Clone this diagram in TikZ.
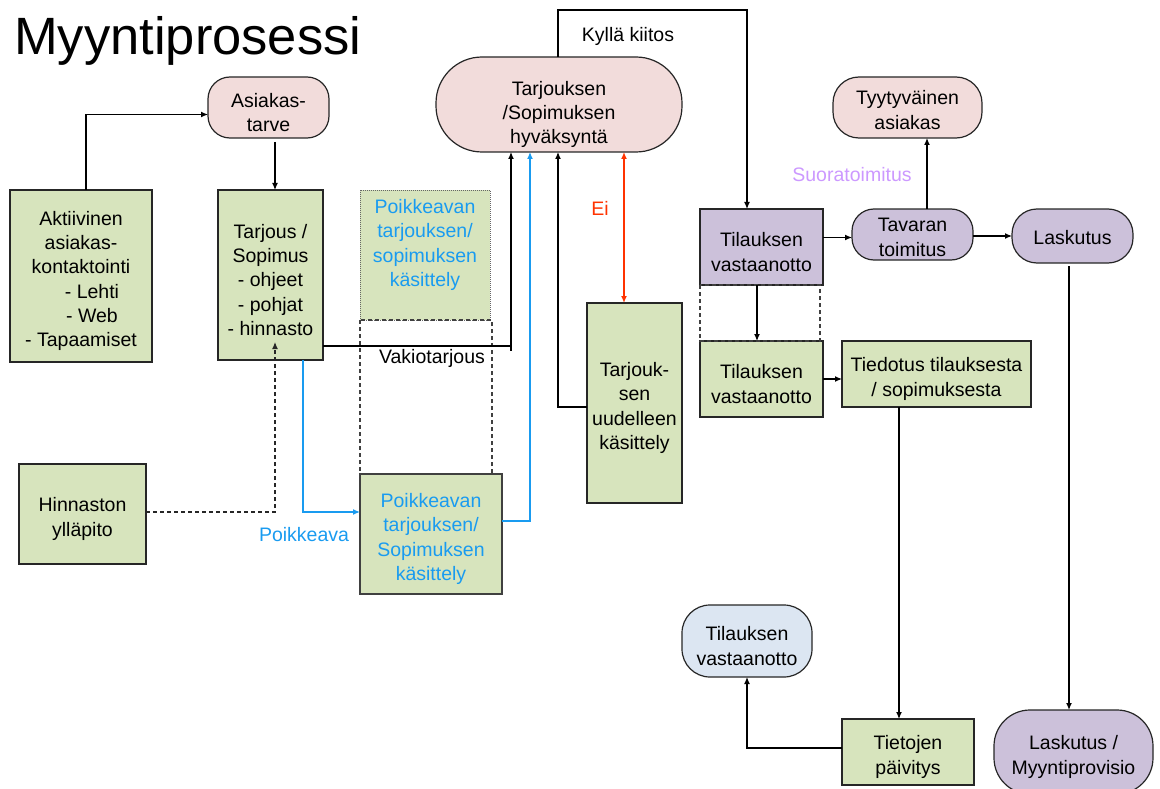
\documentclass[tikz,border=0pt]{standalone}
\usepackage{fontspec}
\setmainfont{Liberation Sans}
\usetikzlibrary{arrows.meta,calc}

\definecolor{boxgreen}{RGB}{215,228,189}
\definecolor{boxpink}{RGB}{242,220,219}
\definecolor{boxpurple}{RGB}{204,193,218}
\definecolor{boxblue}{RGB}{220,230,242}
\definecolor{txtblue}{RGB}{25,155,240}
\definecolor{txtred}{RGB}{255,51,0}
\definecolor{txtlilac}{RGB}{204,153,255}
\newcommand{\bodyfont}{\fontsize{19.5}{24.2}\selectfont}
% taller first line: pushes multi-line text slightly lower in its box
\newcommand{\ts}{\rule{0pt}{24pt}}

\begin{document}
\begin{tikzpicture}[x=1pt,y=-1pt,
  base/.style={draw=black!85, line width=1.2pt, align=center, font=\bodyfont,
    inner sep=2pt, outer sep=0pt, anchor=north west},
  gbox/.style={base, fill=boxgreen},
  pill/.style={base, rounded corners=#1},
  lbl/.style={font=\bodyfont, inner sep=0pt, align=center},
  tip/.tip={Latex[length=7pt,width=6pt]},
  conn/.style={line width=1.2pt, black},
  arr/.style={conn, -tip},
  barr/.style={line width=1.2pt, txtblue, -tip},
  rarr/.style={line width=1.6pt, txtred, tip-tip},
  darr/.style={line width=1.2pt, black!85, dash pattern=on 4pt off 3pt, -tip},
  dashbox/.style={line width=1.1pt, black!75, dash pattern=on 4pt off 3pt},
]
\useasboundingbox (0,0) rectangle (1160,789);
\clip (0,0) rectangle (1160,789);

% title
\node[anchor=base west, inner sep=0pt, font=\fontsize{52.5}{60}\selectfont] (title) at (14,55) {Myyntiprosessi};

% left column
\node[pill=22pt, fill=boxpink, minimum width=121pt, minimum height=61pt] (asiakas) at (208,77) {\ts Asiakas-\\tarve};
\node[gbox, minimum width=142pt, minimum height=172pt] (akt) at (10,190)
  {\ts Aktiivinen\\asiakas-\\kontaktointi\\\hspace*{22pt}- Lehti\\\hspace*{22pt}- Web\hspace*{2pt}\\- Tapaamiset};
\node[gbox, minimum width=105pt, minimum height=170pt] (tarjous) at (218,190)
  {\ts Tarjous /\\Sopimus\\- ohjeet\\- pohjat\\- hinnasto};
\node[gbox, minimum width=127pt, minimum height=100pt] (hinn) at (19,464) {\ts Hinnaston\\ylläpito};

% deviating offers
\node[gbox, draw=black!60, line width=0.8pt, dash pattern=on 1pt off 1pt, minimum width=130pt, minimum height=130pt] (pk1) at (360,190) {};
\node[lbl, text=txtblue] (pk1t) at (425,245) {Poikkeavan\\tarjouksen/\\sopimuksen\\käsittely};
\draw[dashbox] (pk1.south west) rectangle (492,474);
\node[gbox, draw=black!75, minimum width=142pt, minimum height=120pt, text=txtblue] (pk2) at (360,474)
  {\ts Poikkeavan\\tarjouksen/\\Sopimuksen\\käsittely};

% approval
\node[pill=46pt, fill=boxpink, minimum width=246pt, minimum height=95pt] (hyv) at (436,57)
  {\rule{0pt}{34pt}Tarjouksen\\/Sopimuksen\\hyväksyntä};
\node[gbox, minimum width=95pt, minimum height=200pt] (tuk) at (587,303)
  {\ts Tarjouk-\\sen\\uudelleen\\käsittely};

% order handling
\node[base, fill=boxpurple, minimum width=123pt, minimum height=76pt] (tvo) at (700,209) {\ts Tilauksen\\vastaanotto};
\node[pill=22pt, fill=boxpurple, minimum width=121pt, minimum height=51pt] (tav) at (852,209) {\rule{0pt}{19pt}Tavaran\\toimitus};
\node[pill=25pt, fill=boxpurple, minimum width=121pt, minimum height=54pt] (lask) at (1012,209) {\rule{0pt}{18pt}Laskutus};
\node[pill=26pt, fill=boxpink, minimum width=149pt, minimum height=61pt] (tyy) at (833,77) {\rule{0pt}{19pt}Tyytyväinen\\asiakas};
\node[gbox, minimum width=123pt, minimum height=76pt] (gv) at (700,341) {\ts Tilauksen\\vastaanotto};
\node[gbox, minimum width=189pt, minimum height=66pt] (tied) at (842,341) {\ts Tiedotus tilauksesta\\/ sopimuksesta};
\node[gbox, minimum width=132pt, minimum height=66pt] (tiet) at (842,719) {\ts Tietojen\\päivitys};
\node[pill=28pt, fill=boxblue, minimum width=130pt, minimum height=72pt] (btv) at (682,605) {\ts Tilauksen\\vastaanotto};
\node[pill=36pt, fill=boxpurple, minimum width=159pt, minimum height=84pt] (lm) at (994,710) {\ts Laskutus /\\Myyntiprovisio};

% labels
\node[lbl] (vaki) at (432,358) {Vakiotarjous};
\node[lbl, text=txtblue] (poik) at (304,535) {Poikkeava};
\node[lbl, text=txtred] (ei) at (600,208) {Ei};
\node[lbl] (kylla) at (628,36) {Kyllä kiitos};
\node[lbl, text=txtlilac] (suora) at (852,175) {Suoratoimitus};

% connectors, left part
\draw[arr] ([xshift=5pt]akt.north) |- ([yshift=-7pt]asiakas.west);
\draw[arr] ([xshift=6.5pt,yshift=-4pt]asiakas.south) -- ([xshift=4.5pt]tarjous.north);
\draw[darr] ([yshift=2pt]hinn.east) -| ([xshift=4.5pt,yshift=18pt]tarjous.south);
\coordinate (vk) at ($(tarjous.south east)+(188,-14)$);
\draw[conn] ($(tarjous.south east)+(0,-14)$) -- (vk) -- ++(0,5);
\draw[arr] (vk) -- (vk |- hyv.south);
\draw[barr] ([xshift=32.5pt]tarjous.south) |- ([yshift=22pt]pk2.west);
\draw[barr] ([yshift=13pt]pk2.east) -| ([xshift=-29pt]hyv.south);
\draw[arr] ([yshift=-4pt]tuk.west) -| ([xshift=-1pt]hyv.south);
\draw[rarr] ([xshift=65pt]hyv.south) -- ([xshift=-10.5pt]tuk.north);

% connectors, right part
\draw[arr] ([xshift=-1pt]hyv.north) -- ++(0,-47) -| ([xshift=-14.5pt]tvo.north);
\coordinate (tw) at ([yshift=-3pt]tav.west);
\draw[arr] (tw -| tvo.east) -- (tw);
\draw[arr] (tav.east |- lask.west) -- (lask.west);
\draw[arr] ([xshift=14.5pt]tav.north) -- ([xshift=19.5pt]tyy.south);
\draw[dashbox] (tvo.south west) rectangle ([xshift=-3pt]gv.north east);
\draw[arr] ([xshift=-4.5pt]tvo.south) -- ([xshift=-4.5pt]gv.north);
\draw[arr] (gv.east) -- (gv.east -| tied.west);
\draw[arr] ([xshift=-37.5pt]tied.south) -- ([xshift=-9pt]tiet.north);
\draw[arr] ([yshift=4pt]tiet.west) -| (btv.south);
\draw[arr] ([xshift=-3.5pt,yshift=-3pt]lask.south) -- ([xshift=-4.5pt]lm.north);
\end{tikzpicture}
\end{document}
